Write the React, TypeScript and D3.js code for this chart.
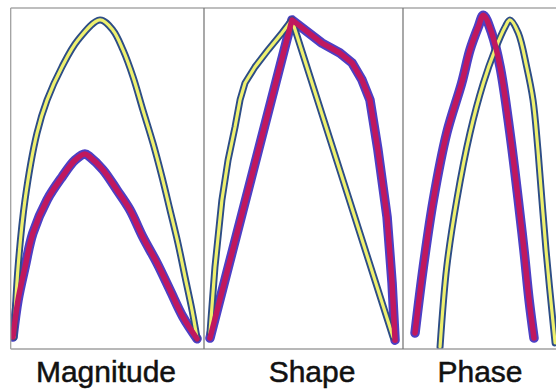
import React, { useEffect, useRef } from "react";
import * as d3 from "d3";

// panel labels
const panelLabels = ["Magnitude", "Shape", "Phase"];

// each curve: [time, value] on a 0-100 grid inside its panel
const magnitudeYellow: [number, number][] = [
  [1.7, 3.5], [3.8, 24.0], [7.4, 43.7], [13.6, 63.3], [18.8, 73.0], [26.5, 82.7],
  [34.8, 90.6], [46.2, 96.5], [52.9, 93.5], [58.1, 87.7], [63.3, 79.8],
  [68.4, 70.1], [73.6, 60.4], [78.3, 50.4], [82.4, 40.8], [86.5, 31.1],
  [90.2, 21.1], [93.8, 11.4], [96.4, 3.2],
];
const magnitudeRed: [number, number][] = [
  [1.2, 3.5], [3.8, 14.4], [7.4, 24.0], [11.5, 34.0], [18.8, 43.7], [26.5, 50.4],
  [33.3, 55.4], [38.4, 57.2], [41.0, 56.3], [47.8, 52.5], [55.0, 46.6],
  [61.7, 40.8], [68.4, 32.8], [75.7, 25.2], [82.4, 17.3], [89.1, 9.4], [96.4, 3.0],
];
const shapeYellow: [number, number][] = [
  [3.0, 4.7], [5.5, 24.0], [9.0, 43.7], [12.1, 55.4], [15.6, 65.1], [18.1, 73.0],
  [20.6, 78.0], [25.6, 82.7], [32.2, 87.7], [39.2, 92.7], [44.2, 96.5],
  [69.6, 50.0], [95.0, 3.5],
];
const shapeRed: [number, number][] = [
  [3.0, 3.2], [23.6, 49.8], [44.2, 96.5], [59.3, 89.7], [68.3, 86.8], [74.4, 83.9],
  [79.4, 78.9], [83.4, 73.0], [87.4, 58.4], [92.0, 38.7], [94.5, 19.4], [96.0, 2.6],
];
const phaseYellow: [number, number][] = [
  [18.8, 0.6], [22.2, 24.0], [27.3, 43.7], [34.0, 63.3], [40.8, 78.0], [46.7, 87.7],
  [51.8, 94.4], [54.3, 96.5], [58.5, 92.7], [62.8, 82.7], [66.0, 73.0],
  [68.5, 58.4], [72.6, 29.0], [77.2, 1.8],
];
const phaseRed: [number, number][] = [
  [6.1, 4.7], [10.3, 24.0], [15.4, 43.7], [22.2, 63.3], [29.8, 78.0], [34.0, 87.7],
  [38.2, 94.4], [40.8, 97.9], [45.0, 92.7], [49.3, 82.7], [54.3, 63.3],
  [58.5, 43.7], [61.4, 29.0], [64.0, 14.4], [66.5, 3.2],
];

const panels = [
  { yellow: magnitudeYellow, red: magnitudeRed, smooth: true },
  { yellow: shapeYellow, red: shapeRed, smooth: false },
  { yellow: phaseYellow, red: phaseRed, smooth: true },
];

const App = () => {
  const ref = useRef<SVGSVGElement>(null);

  useEffect(() => {
    const svg = d3.select(ref.current);
    svg.selectAll("*").remove();

    const W = 556;
    const top = 8;
    const bottom = 349;
    // panel edges
    const edges = [10.7, 204, 403, 600];
    const labelX = [106, 312, 480];

    const y = d3.scaleLinear().domain([0, 100]).range([bottom, top]);

    panels.forEach((p, i) => {
      const x = d3.scaleLinear().domain([0, 100]).range([edges[i], edges[i + 1]]);
      const clipId = `clip-${i}`;
      svg.append("clipPath").attr("id", clipId)
        .append("rect")
        .attr("x", edges[i]).attr("y", top)
        .attr("width", Math.min(edges[i + 1], W) - edges[i])
        .attr("height", bottom - top);

      const g = svg.append("g").attr("clip-path", `url(#${clipId})`);

      const line = d3.line<[number, number]>()
        .x((d) => x(d[0]))
        .y((d) => y(d[1]))
        .curve(p.smooth ? d3.curveCatmullRom.alpha(0.5) : d3.curveLinear);

      // blue outlines
      g.append("path").attr("d", line(p.red)).attr("fill", "none")
        .attr("stroke", "#4d3fc4").attr("stroke-width", 9.5)
        .attr("stroke-linejoin", "round").attr("stroke-linecap", "round");
      g.append("path").attr("d", line(p.yellow)).attr("fill", "none")
        .attr("stroke", "#2d4d86").attr("stroke-width", 7)
        .attr("stroke-linejoin", "round").attr("stroke-linecap", "round");

      // inner colours
      g.append("path").attr("d", line(p.yellow)).attr("fill", "none")
        .attr("stroke", "#eef06e").attr("stroke-width", 3.2)
        .attr("stroke-linejoin", "round").attr("stroke-linecap", "round");
      g.append("path").attr("d", line(p.red)).attr("fill", "none")
        .attr("stroke", "#c0185e").attr("stroke-width", 5.5)
        .attr("stroke-linejoin", "round").attr("stroke-linecap", "round");

      svg.append("text")
        .attr("x", labelX[i])
        .attr("y", 382)
        .attr("text-anchor", "middle")
        .style("font-family", "'Liberation Sans', Arial, sans-serif")
        .style("font-size", "30px")
        .attr("fill", "#111")
        .attr("stroke", "#111")
        .attr("stroke-width", 0.5)
        .text(panelLabels[i]);
    });

    // frame
    svg.append("line").attr("x1", edges[0]).attr("x2", W).attr("y1", top).attr("y2", top)
      .attr("stroke", "#a8a8a8").attr("stroke-width", 1.5);
    svg.append("line").attr("x1", edges[0]).attr("x2", W).attr("y1", bottom).attr("y2", bottom)
      .attr("stroke", "#a0a0a0").attr("stroke-width", 1.5);
    edges.slice(0, 3).forEach((e, i) => {
      svg.append("line").attr("x1", e).attr("x2", e).attr("y1", top).attr("y2", bottom)
        .attr("stroke", i === 0 ? "#a0a0a0" : "#7a7a7a").attr("stroke-width", 1.3);
    });
  }, []);

  return (
    <svg
      ref={ref}
      width={556}
      height={392}
      style={{ position: "absolute", left: 0, top: 0, background: "#fff" }}
    />
  );
};

export default App;
